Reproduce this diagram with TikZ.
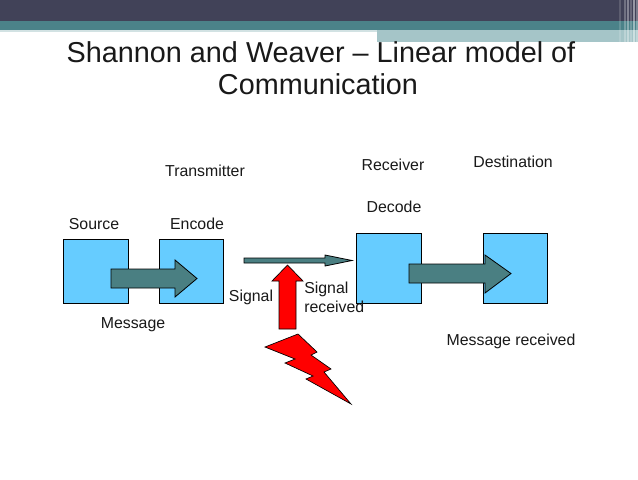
\documentclass[tikz,border=0pt]{standalone}
\usepackage{fontspec}
\setmainfont{Liberation Sans}
\definecolor{hdrdark}{HTML}{414258}
\definecolor{hdrteal}{HTML}{4B8289}
\definecolor{hdrlight}{HTML}{A5C5C8}
\definecolor{boxblue}{HTML}{66CCFF}
\definecolor{arrteal}{HTML}{4A7F82}
\begin{document}
\begin{tikzpicture}[x=0.75pt,y=-0.75pt,
  blk/.style={draw=black,fill=boxblue,line width=0.6pt},
  tarrow/.style={draw=black,fill=arrteal,line width=0.6pt,line join=miter},
  rarrow/.style={draw=black,fill=red,line width=0.5pt,line join=miter},
  lbl/.style={font=\fontsize{11.9pt}{14pt}\selectfont,inner sep=0pt,text=black!90},
  ttl/.style={font=\fontsize{21.6pt}{25pt}\selectfont,inner sep=0pt,anchor=base,text=black!90}]
\useasboundingbox (0,0) rectangle (638,479);
\fill[white] (0,0) rectangle (638,479);
% header
\fill[hdrdark] (0,0) rectangle (638,21);
\fill[hdrteal] (0,21) rectangle (638,30);
\fill[hdrlight!50] (0,30) rectangle (377,32);
\fill[hdrlight] (377,30) rectangle (638,42);
\foreach \xx/\op in {619/0.15,624/0.25,627/0.35,630/0.2,633/0.45,636/0.3}
  \fill[white,opacity=\op] (\xx,0) rectangle ++(2,42);
% title
\node[ttl] (t1) at (321,62) {Shannon and Weaver -- Linear model of};
\node[ttl] (t2) at (318,94) {Communication};
% boxes
\node[blk,minimum width=65*0.75pt,minimum height=64*0.75pt,inner sep=0pt] (src) at (95.5,271) {};
\node[blk,minimum width=64*0.75pt,minimum height=64*0.75pt,inner sep=0pt] (enc) at (191,271) {};
\node[blk,minimum width=65*0.75pt,minimum height=70*0.75pt,inner sep=0pt] (dec) at (388.5,268) {};
\node[blk,minimum width=64*0.75pt,minimum height=70*0.75pt,inner sep=0pt] (dst) at (515,268) {};
% block arrows
\draw[tarrow] (111,269) -- (175,269) -- (175,260) -- (197,278.5) -- (175,297) -- (175,288) -- (111,288) -- cycle;
\draw[tarrow] (244,258) -- (325,258) -- (325,255) -- (352,260.5) -- (325,266) -- (325,263) -- (244,263) -- cycle;
\draw[tarrow] (409,264) -- (485,264) -- (485,255) -- (511,273.5) -- (485,293) -- (485,283) -- (409,283) -- cycle;
\draw[rarrow] (279,329) -- (279,281) -- (272,281) -- (287.5,265) -- (303,281) -- (296,281) -- (296,329) -- cycle;
% lightning
\draw[rarrow] (265,347) -- (298,334) -- (317,352) -- (311,355) -- (331,369) -- (324,372) -- (351,404)
  -- (306,379) -- (313,376) -- (285,363) -- (295,359) -- cycle;
% labels
\node[lbl] (lsrc) at (94,224) {Source};
\node[lbl] (lenc) at (197,224) {Encode};
\node[lbl] (lmsg) at (133,325) {Message};
\node[lbl] (lsig) at (251,297) {Signal};
\node[lbl,anchor=west,align=left] (lsr) at (304,297.5) {Signal\\received};
\node[lbl] (ltx) at (205,171) {Transmitter};
\node[lbl] (lrx) at (393,165) {Receiver};
\node[lbl] (ldst) at (513,162) {Destination};
\node[lbl] (ldec) at (394,207) {Decode};
\node[lbl] (lmr) at (511,341) {Message received};
\end{tikzpicture}
\end{document}
